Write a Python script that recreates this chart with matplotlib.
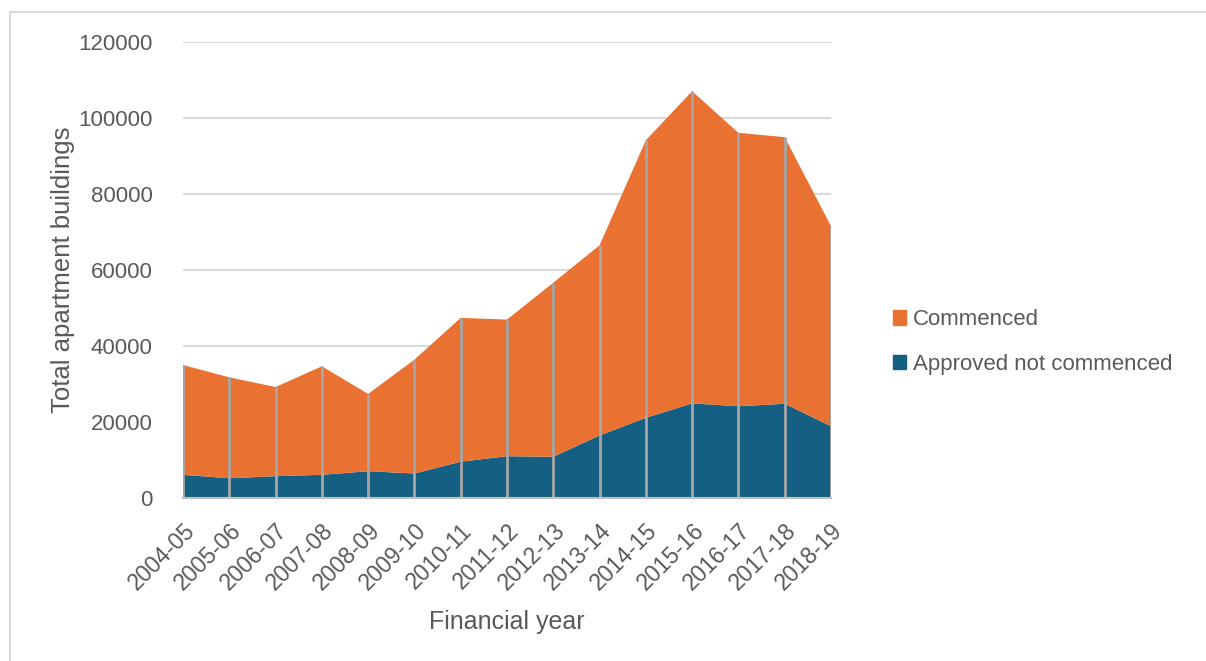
import matplotlib.pyplot as plt
import numpy as np
from matplotlib.patches import Patch

plt.rcParams['font.family'] = ['Liberation Sans', 'DejaVu Sans']

years = ['2004-05', '2005-06', '2006-07', '2007-08', '2008-09', '2009-10',
         '2010-11', '2011-12', '2012-13', '2013-14', '2014-15', '2015-16',
         '2016-17', '2017-18', '2018-19']
approved_not_commenced = [6100, 5200, 5750, 6100, 7050, 6450, 9550, 11000,
                          10850, 16450, 21100, 24900, 24150, 24800, 18900]
total = [35000, 31750, 29200, 34650, 27400, 36400, 47400, 46950,
         56650, 66500, 94150, 107050, 96100, 94950, 71550]
commenced = [t - a for t, a in zip(total, approved_not_commenced)]

orange = '#E97132'
blue = '#156082'
grey_txt = '#595959'

fig = plt.figure(figsize=(12.06, 6.61), dpi=100)
ax = fig.add_axes([183 / 1206, 163 / 661, 648 / 1206, 456 / 661])

x = np.arange(len(years))
ax.stackplot(x, approved_not_commenced, commenced, colors=[blue, orange],
             linewidth=0, zorder=2)
ax.vlines(x, 0, total, colors='#A6A6A6', linewidth=2, zorder=3)

ax.set_xlim(0, len(years) - 1)
ax.set_ylim(0, 120000)
ax.set_yticks(range(0, 120001, 20000))
ax.yaxis.grid(True, color='#D9D9D9', linewidth=1.5, zorder=0)
ax.set_axisbelow(True)
ax.set_xticks(x)
ax.set_xticklabels(years, rotation=45, ha='right', va='top',
                   rotation_mode='anchor')
ax.tick_params(axis='both', length=0, colors=grey_txt)
ax.tick_params(axis='y', pad=22, labelsize=16)
ax.tick_params(axis='x', pad=15, labelsize=16.5)
for s in ['top', 'right', 'left']:
    ax.spines[s].set_visible(False)
ax.spines['bottom'].set_color('#BFBFBF')
ax.spines['bottom'].set_linewidth(1.5)
ax.spines['bottom'].set_zorder(4)

ax.set_xlabel('Financial year', fontsize=18, color=grey_txt, labelpad=11)
ax.set_ylabel('Total apartment buildings', fontsize=18.5, color=grey_txt,
              labelpad=2)

handles = [Patch(color=orange), Patch(color=blue)]
fig.legend(handles, ['Commenced', 'Approved not commenced'],
           loc='center left', bbox_to_anchor=(873 / 1206, 1 - 342 / 661),
           frameon=False, fontsize=16, labelcolor=grey_txt,
           handlelength=0.6, handleheight=0.6, handletextpad=0.3,
           labelspacing=1.05)

# chart frame (only top/left edge visible)
fig.add_artist(plt.Line2D([10 / 1206, 10 / 1206], [0, 1 - 12 / 661],
                          transform=fig.transFigure, color='#D9D9D9', lw=1.5))
fig.add_artist(plt.Line2D([10 / 1206, 1], [1 - 12 / 661, 1 - 12 / 661],
                          transform=fig.transFigure, color='#D9D9D9', lw=1.5))

fig.savefig('out.png', dpi=100)
